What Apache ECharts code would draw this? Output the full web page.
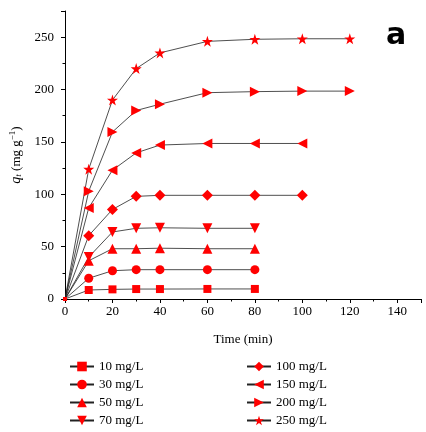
<!DOCTYPE html>
<html>
<head>
<meta charset="utf-8">
<script src="https://cdn.jsdelivr.net/npm/echarts@6/dist/echarts.min.js"></script>
<style>
  html, body { margin: 0; padding: 0; background: #fff; }
  #chart { width: 426px; height: 432px; }
</style>
</head>
<body>
<div id="chart"></div>
<script>
const names = ['10 mg/L', '30 mg/L', '50 mg/L', '70 mg/L', '100 mg/L', '150 mg/L', '200 mg/L', '250 mg/L']
const timesShort = [0, 10, 20, 30, 40, 60, 80]
const timesMid = [0, 10, 20, 30, 40, 60, 80, 100]
const timesLong = [0, 10, 20, 30, 40, 60, 80, 100, 120]
const q10 = [0, 8.6, 9.2, 9.5, 9.5, 9.6, 9.6]
const q30 = [0, 19.8, 27, 28, 28, 28, 28]
const q50 = [0, 36.5, 48, 48, 48.5, 48, 48]
const q70 = [0, 40, 64, 67.5, 68, 67.5, 67.5]
const q100 = [0, 60.5, 85.5, 98, 99, 99, 99, 99]
const q150 = [0, 87, 123, 139.5, 147, 148.5, 148.5, 148.5]
const q200 = [0, 103, 159.5, 180, 186, 197, 198, 198.5, 198.5]
const q250 = [0, 124, 190, 220, 235, 246, 248, 248.5, 248.5]

const star = 'path://M50,0 L61.8,35.4 L99,35.4 L69.1,57.3 L80.3,92.7 L50,70.8 L19.7,92.7 L30.9,57.3 L1,35.4 L38.2,35.4 Z'
const serif = 'Liberation Serif'

function pairs (t, v) {
  return t.map((x, i) => [x, v[i]])
}

const seriesDefs = [
  { t: timesShort, v: q10, symbol: 'rect', size: 8, rot: 0 },
  { t: timesShort, v: q30, symbol: 'circle', size: 9, rot: 0 },
  { t: timesShort, v: q50, symbol: 'triangle', size: 10, rot: 0 },
  { t: timesShort, v: q70, symbol: 'triangle', size: 10, rot: 180 },
  { t: timesMid, v: q100, symbol: 'diamond', size: 11, rot: 0 },
  { t: timesMid, v: q150, symbol: 'triangle', size: 10, rot: 90 },
  { t: timesLong, v: q200, symbol: 'triangle', size: 10, rot: -90 },
  { t: timesLong, v: q250, symbol: star, size: 11, rot: 0 }
]

const legendBase = {
  orient: 'vertical',
  top: 355,
  height: 76,
  itemGap: 5,
  itemWidth: 24,
  itemHeight: 12,
  textStyle: { fontFamily: serif, fontSize: 13, color: '#000' }
}

const chart = echarts.init(document.getElementById('chart'))
const option = {
  animation: false,
  grid: { left: 65, right: 5, top: 11, bottom: 133, outerBoundsMode: 'none' },
  legend: [
    Object.assign({ data: names.slice(0, 4), left: 64 }, legendBase),
    Object.assign({ data: names.slice(4), left: 241 }, legendBase)
  ],
  xAxis: {
    type: 'value',
    min: 0,
    max: 150,
    interval: 20,
    name: 'Time (min)',
    nameLocation: 'middle',
    nameGap: 34,
    nameTextStyle: { fontFamily: serif, fontSize: 13, color: '#000' },
    axisLine: { lineStyle: { color: '#000', width: 1 } },
    axisTick: { inside: false, length: 4, lineStyle: { color: '#000' } },
    minorTick: { show: true, splitNumber: 2, length: 2.5, lineStyle: { color: '#000' } },
    axisLabel: { fontFamily: serif, fontSize: 13, color: '#000', margin: 6, showMaxLabel: false },
    splitLine: { show: false }
  },
  yAxis: {
    type: 'value',
    min: 0,
    max: 275,
    interval: 50,
    name: '{q|q}{t|t}{n| (mg g}{s|−1}{n|)}',
    nameLocation: 'middle',
    nameRotate: 90,
    nameGap: 37,
    nameTextStyle: {
      fontFamily: serif,
      fontSize: 13,
      color: '#000',
      rich: {
        q: { fontFamily: serif, fontStyle: 'italic', fontSize: 14, color: '#000' },
        t: { fontFamily: serif, fontStyle: 'italic', fontSize: 9, color: '#000', verticalAlign: 'bottom', padding: [6, 0, 0, 0] },
        n: { fontFamily: serif, fontSize: 13, color: '#000' },
        s: { fontFamily: serif, fontSize: 9, color: '#000', verticalAlign: 'top', padding: [0, 0, 6, 0] }
      }
    },
    axisLine: { show: true, lineStyle: { color: '#000', width: 1 } },
    axisTick: { show: true, inside: false, length: 4, lineStyle: { color: '#000' } },
    minorTick: { show: true, splitNumber: 2, length: 2.5, lineStyle: { color: '#000' } },
    axisLabel: { fontFamily: serif, fontSize: 13, color: '#000', margin: 11, showMaxLabel: false },
    splitLine: { show: false }
  },
  graphic: [
    {
      type: 'text',
      left: 386,
      top: 21,
      style: { text: 'a', fontFamily: 'DejaVu Sans', fontWeight: 'bold', fontSize: 30, fill: '#000' }
    }
  ],
  series: seriesDefs.map((d, i) => ({
    name: names[i],
    type: 'line',
    data: pairs(d.t, d.v),
    symbol: d.symbol,
    symbolSize: (val) => (val[0] === 0 ? 4 : d.size),
    symbolRotate: d.rot,
    showAllSymbol: true,
    lineStyle: { color: '#222', width: 0.8 },
    itemStyle: { color: '#ff0000', borderWidth: 0 },
    z: 2
  }))
}
chart.setOption(option)
window.addEventListener('resize', () => {
  chart.resize()
})
</script>
</body>
</html>
